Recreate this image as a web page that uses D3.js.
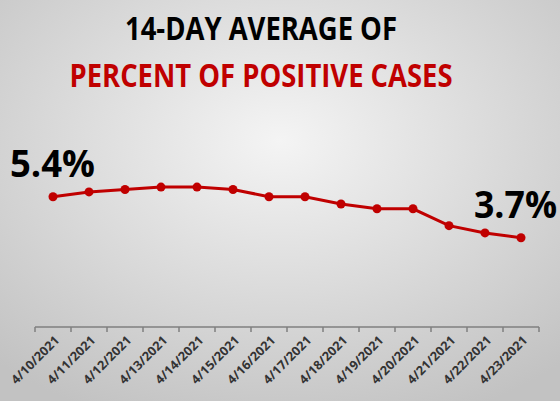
<!DOCTYPE html>
<meta charset="utf-8">
<style>
body { margin: 0; }
svg { display: block; }
</style>
<svg width="560" height="401"></svg>
<script src="https://d3js.org/d3.v7.min.js"></script>
<script>

var dates = ["4/10/2021", "4/11/2021", "4/12/2021", "4/13/2021", "4/14/2021", "4/15/2021", "4/16/2021",
             "4/17/2021", "4/18/2021", "4/19/2021", "4/20/2021", "4/21/2021", "4/22/2021", "4/23/2021"];
var percents = [5.4, 5.6, 5.7, 5.8, 5.8, 5.7, 5.4, 5.4, 5.1, 4.9, 4.9, 4.2, 3.9, 3.7];
var titleLines = ["14-DAY AVERAGE OF", "PERCENT OF POSITIVE CASES"];

var svg = d3.select("svg"),
    margin = {top: 134, right: 21, bottom: 74, left: 35},
    width = +svg.attr("width") - margin.left - margin.right,
    height = +svg.attr("height") - margin.top - margin.bottom;

// background
var grad = svg.append("defs").append("radialGradient")
    .attr("id", "bg")
    .attr("cx", "50%").attr("cy", "35%").attr("r", "75%");
grad.append("stop").attr("offset", "0%").attr("stop-color", "#f4f4f4");
grad.append("stop").attr("offset", "100%").attr("stop-color", "#c2c2c2");

svg.append("rect")
    .attr("width", 560).attr("height", 401)
    .attr("fill", "url(#bg)");

// title
svg.append("text")
    .attr("x", 261).attr("y", 40)
    .attr("text-anchor", "middle")
    .attr("font-family", "Open Sans, sans-serif")
    .attr("font-weight", "bold")
    .attr("font-size", 32)
    .attr("textLength", 272)
    .attr("lengthAdjust", "spacingAndGlyphs")
    .attr("fill", "#000")
    .text(titleLines[0]);

svg.append("text")
    .attr("x", 261).attr("y", 87)
    .attr("text-anchor", "middle")
    .attr("font-family", "Open Sans, sans-serif")
    .attr("font-weight", "bold")
    .attr("font-size", 32)
    .attr("textLength", 383)
    .attr("lengthAdjust", "spacingAndGlyphs")
    .attr("fill", "#c00000")
    .text(titleLines[1]);

var x = d3.scaleBand().domain(dates).range([0, width]),
    y = d3.scaleLinear().domain([0, 8]).range([height, 0]);

var g = svg.append("g")
    .attr("transform", "translate(" + margin.left + "," + margin.top + ")");

// x axis with ticks between categories
var xAxis = g.append("g")
    .attr("transform", "translate(0," + height + ")");

xAxis.append("line")
    .attr("x1", 0).attr("x2", width)
    .attr("stroke", "#7f7f7f").attr("stroke-width", 1.5);

xAxis.selectAll(".sep")
  .data(d3.range(dates.length + 1))
  .enter().append("line")
    .attr("class", "sep")
    .attr("x1", function(i) { return i * x.bandwidth(); })
    .attr("x2", function(i) { return i * x.bandwidth(); })
    .attr("y1", 0).attr("y2", 5)
    .attr("stroke", "#7f7f7f").attr("stroke-width", 1.5);

xAxis.selectAll(".lbl")
  .data(dates)
  .enter().append("text")
    .attr("class", "lbl")
    .attr("transform", function(d) {
      return "translate(" + (x(d) + x.bandwidth() / 2 + 4) + ",11) rotate(-45)";
    })
    .attr("text-anchor", "end")
    .attr("dy", "0.35em")
    .attr("font-family", "Open Sans, sans-serif")
    .attr("font-weight", "bold")
    .attr("font-size", 12.5)
    .attr("textLength", 62)
    .attr("lengthAdjust", "spacingAndGlyphs")
    .attr("fill", "#333")
    .text(function(d) { return d; });

var line = d3.line()
    .x(function(d, i) { return x(dates[i]) + x.bandwidth() / 2; })
    .y(function(d) { return y(d); });

g.append("path")
    .datum(percents)
    .attr("fill", "none")
    .attr("stroke", "#c00000")
    .attr("stroke-width", 3)
    .attr("d", line);

g.selectAll(".dot")
  .data(percents)
  .enter().append("circle")
    .attr("class", "dot")
    .attr("cx", function(d, i) { return x(dates[i]) + x.bandwidth() / 2; })
    .attr("cy", function(d) { return y(d); })
    .attr("r", 4.5)
    .attr("fill", "#c00000");

// end labels
var last = percents.length - 1;
g.append("text")
    .attr("x", x(dates[0]) + x.bandwidth() / 2 - 43)
    .attr("y", y(percents[0]) - 20)
    .attr("font-family", "Open Sans, sans-serif")
    .attr("font-weight", "bold")
    .attr("font-size", 37)
    .attr("textLength", 85)
    .attr("lengthAdjust", "spacingAndGlyphs")
    .text(percents[0].toFixed(1) + "%");

g.append("text")
    .attr("x", x(dates[last]) + x.bandwidth() / 2 - 47)
    .attr("y", y(percents[last]) - 20)
    .attr("font-family", "Open Sans, sans-serif")
    .attr("font-weight", "bold")
    .attr("font-size", 37)
    .attr("textLength", 83)
    .attr("lengthAdjust", "spacingAndGlyphs")
    .text(percents[last].toFixed(1) + "%");

</script>
